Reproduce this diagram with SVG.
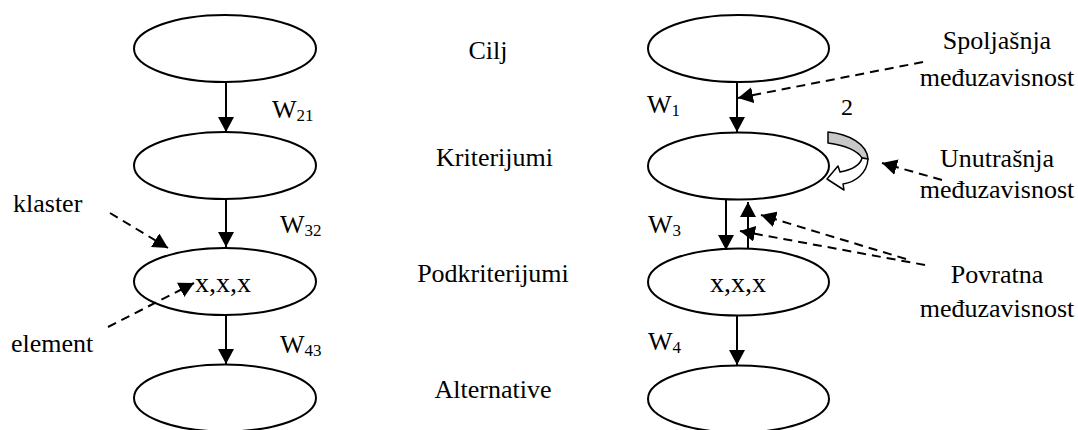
<svg xmlns="http://www.w3.org/2000/svg" width="1078" height="430" viewBox="0 0 1078 430">
<style>
.node{fill:#fff;stroke:#000;stroke-width:2}
.t{font-family:'Liberation Serif','Times New Roman',serif;font-size:26px;fill:#000}
.c{text-anchor:middle}
.sub{font-size:17px}
.big{font-size:28px}
.ar{fill:none;stroke:#000;stroke-width:2}
.ds{fill:none;stroke:#000;stroke-width:2;stroke-dasharray:9,6}
</style>
<defs>
<marker id="ah" viewBox="0 0 15 16" refX="15" refY="8" markerWidth="15" markerHeight="16" markerUnits="userSpaceOnUse" orient="auto">
<path d="M0,0 L15,8 L0,16 Z" fill="#000"/>
</marker>
</defs>
<rect width="1078" height="430" fill="#fff"/>

<g id="left-cilj"><ellipse class="node" cx="225" cy="48.5" rx="91" ry="33.5"/></g>
<g id="left-kriterijumi"><ellipse class="node" cx="225" cy="165.5" rx="91" ry="33.5"/></g>
<g id="left-podkriterijumi"><ellipse class="node" cx="225" cy="281.5" rx="91" ry="33.5"/><text class="t big" x="195" y="292">x,x,x</text></g>
<g id="left-alternative"><ellipse class="node" cx="225" cy="398" rx="91" ry="33.5"/></g>

<g id="right-cilj"><ellipse class="node" cx="738.5" cy="48.5" rx="90.5" ry="33.5"/></g>
<g id="right-kriterijumi"><ellipse class="node" cx="738.5" cy="166" rx="90.5" ry="33.5"/></g>
<g id="right-podkriterijumi"><ellipse class="node" cx="738.5" cy="282" rx="90.5" ry="33.5"/><text class="t big c" x="738" y="292">x,x,x</text></g>
<g id="right-alternative"><ellipse class="node" cx="738.5" cy="399" rx="90.5" ry="33.5"/></g>

<g id="level-labels">
<text class="t c" x="488" y="59">Cilj</text>
<text class="t c" x="494.5" y="166">Kriterijumi</text>
<text class="t c" x="493" y="282">Podkriterijumi</text>
<text class="t c" x="493" y="398">Alternative</text>
</g>

<g id="weight-labels">
<text class="t" x="272" y="118">W<tspan class="sub" dy="3">21</tspan></text>
<text class="t" x="280" y="233">W<tspan class="sub" dy="3">32</tspan></text>
<text class="t" x="280" y="353">W<tspan class="sub" dy="3">43</tspan></text>
<text class="t" x="647" y="113">W<tspan class="sub" dy="3">1</tspan></text>
<text class="t" x="648" y="233">W<tspan class="sub" dy="3">3</tspan></text>
<text class="t" x="648" y="350">W<tspan class="sub" dy="3">4</tspan></text>
</g>

<g id="annotations">
<text class="t" x="13" y="212">klaster</text>
<text class="t" x="11" y="352">element</text>
<text class="t c" x="997" y="49">Spoljašnja</text>
<text class="t c" x="997" y="86">međuzavisnost</text>
<text class="t c" x="847" y="115" style="font-size:24px">2</text>
<text class="t c" x="997" y="167">Unutrašnja</text>
<text class="t c" x="997" y="198">međuzavisnost</text>
<text class="t c" x="997" y="283">Povratna</text>
<text class="t c" x="997" y="317">međuzavisnost</text>
</g>

<g id="loop-arrow">
<path d="M828,132 C849,134 867,144 868,159 L862,158 C858,151 845,145 828,143 Z" fill="#c8c8c8" stroke="#000" stroke-width="1.5" stroke-linejoin="round"/>
<path d="M868,159 C867,173 856,182 843,184 L844,190 L827,179 L838,166 L840,172 C851,170 860,166 862,158 Z" fill="#fff" stroke="#000" stroke-width="1.5" stroke-linejoin="round"/>
</g>

<g id="connectors">
<path class="ar" d="M226,82 L226,132" marker-end="url(#ah)"/>
<path class="ar" d="M226,199 L226,247" marker-end="url(#ah)"/>
<path class="ar" d="M226,315 L226,364" marker-end="url(#ah)"/>
<path class="ds" d="M110,213 L168,248" marker-end="url(#ah)"/>
<path class="ds" d="M108,327 L194,283" marker-end="url(#ah)"/>

<path class="ar" d="M737,82 L737,132" marker-end="url(#ah)"/>
<path class="ar" d="M726,200 L726,250" marker-end="url(#ah)"/>
<path class="ar" d="M748,248 L748,202" marker-end="url(#ah)"/>
<path class="ar" d="M737,316 L737,365" marker-end="url(#ah)"/>
<path class="ds" d="M923,62 L738,98" marker-end="url(#ah)"/>
<path class="ds" d="M942,180 L882,163" marker-end="url(#ah)"/>
<path class="ds" d="M906,259 L761,215" marker-end="url(#ah)"/>
<path class="ds" d="M925,265 L740,231" marker-end="url(#ah)"/>
</g>
</svg>
